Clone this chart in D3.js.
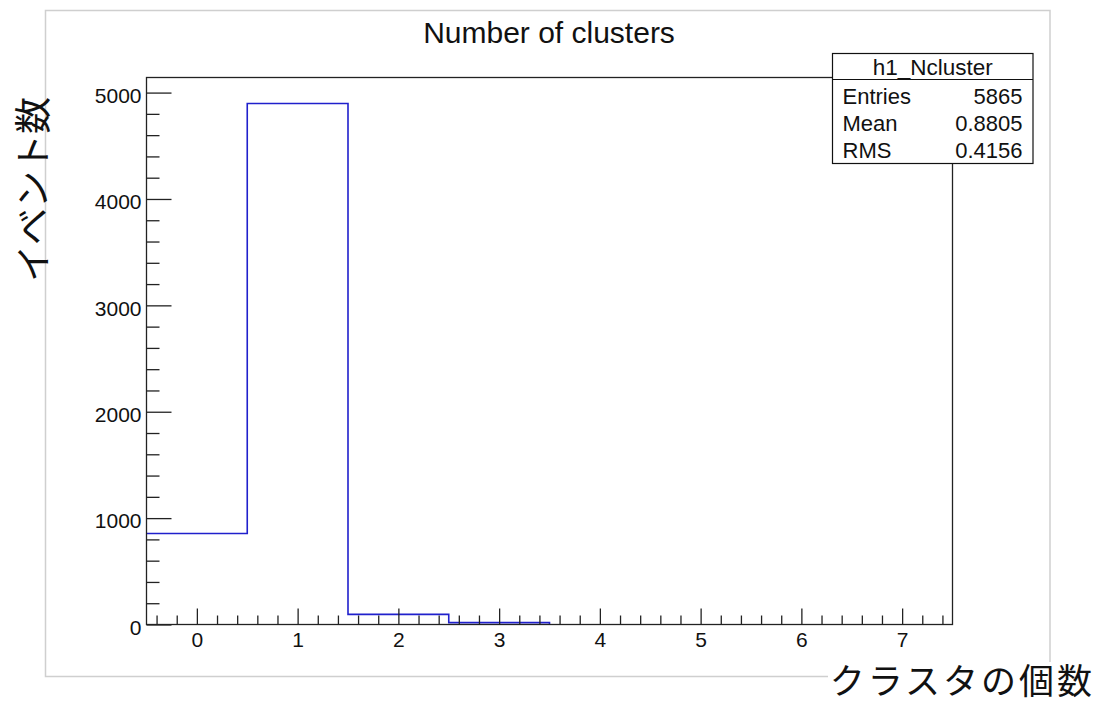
<!DOCTYPE html>
<html>
<head>
<meta charset="utf-8">
<script src="https://cdn.jsdelivr.net/npm/d3@7"></script>
<style>
  html, body { margin: 0; padding: 0; background: #fff; }
  svg { display: block; }
  .lat { font-family: "Liberation Sans", Arial, Helvetica, sans-serif; }
  .cjk { font-family: "Noto Sans CJK JP", sans-serif; }
</style>
</head>
<body>
<svg id="chart" width="1099" height="704"></svg>
<script>
// Histogram of the number of clusters per event
const binCenters = [0, 1, 2, 3, 4, 5, 6, 7];
const binCounts  = [855, 4897, 95, 18, 0, 0, 0, 0];
const xTickValues = [0, 1, 2, 3, 4, 5, 6, 7];
const yTickValues = [0, 1000, 2000, 3000, 4000, 5000];
const statsLabels = ["Entries", "Mean", "RMS"];
const statsValues = ["5865", "0.8805", "0.4156"];
const histName = "h1_Ncluster";
const titleText = "Number of clusters";
const xTitle = "クラスタの個数";
const yTitle = "イベント数";

const svg = d3.select("#chart");
const frame = { left: 146.5, right: 952.5, top: 77.5, bottom: 624.5 };

const yMax = d3.max(binCounts) * 1.05;
const x = d3.scaleLinear().domain([-0.5, 7.5]).range([frame.left, frame.right]);
const y = d3.scaleLinear().domain([0, yMax]).range([frame.bottom, frame.top]);

// canvas border
svg.append("rect")
  .attr("x", 45.5).attr("y", 10.5)
  .attr("width", 1004.5).attr("height", 666)
  .attr("fill", "none").attr("stroke", "#cfcfcf").attr("stroke-width", 1.5);

// title
svg.append("text").attr("class", "lat")
  .attr("x", 549).attr("y", 43)
  .attr("text-anchor", "middle")
  .attr("font-size", 30).attr("fill", "#111")
  .text(titleText);

// histogram outline (steps through non-empty bins)
const lastBin = d3.max(binCounts.map((c, i) => c > 0 ? i : -1));
const pts = [];
for (let i = 0; i <= lastBin; i++) {
  pts.push([x(binCenters[i] - 0.5), y(binCounts[i])]);
  pts.push([x(binCenters[i] + 0.5), y(binCounts[i])]);
}
pts.push([x(binCenters[lastBin] + 0.5), y(0)]);
svg.append("path")
  .attr("d", d3.line()(pts))
  .attr("fill", "none").attr("stroke", "#2020cc").attr("stroke-width", 1.6);

// frame
svg.append("rect")
  .attr("x", frame.left).attr("y", frame.top)
  .attr("width", frame.right - frame.left).attr("height", frame.bottom - frame.top)
  .attr("fill", "none").attr("stroke", "#222").attr("stroke-width", 1.3);

// x axis: major and minor ticks pointing into the frame
const xMinor = d3.range(-0.4, 7.45, 0.2).map(v => Math.round(v * 10) / 10)
  .filter(v => !xTickValues.includes(v));
const gxMinor = svg.append("g").attr("transform", `translate(0,${frame.bottom})`)
  .call(d3.axisBottom(x).tickValues(xMinor).tickSize(-9).tickFormat(""));
const gx = svg.append("g").attr("transform", `translate(0,${frame.bottom})`)
  .call(d3.axisBottom(x).tickValues(xTickValues).tickSize(-16).tickPadding(8).tickFormat(d3.format("d")));

// y axis: major and minor ticks
const yMinor = d3.range(200, yMax, 200).filter(v => v % 1000 !== 0);
const gyMinor = svg.append("g").attr("transform", `translate(${frame.left},0)`)
  .call(d3.axisLeft(y).tickValues(yMinor).tickSize(-13).tickFormat(""));
const gy = svg.append("g").attr("transform", `translate(${frame.left},0)`)
  .call(d3.axisLeft(y).tickValues(yTickValues).tickSize(-25).tickPadding(5).tickFormat(d3.format("d")));

[gx, gy, gxMinor, gyMinor].forEach(g => {
  g.select(".domain").remove();
  g.selectAll("line").attr("stroke", "#222").attr("stroke-width", 1.3);
  g.selectAll("text").attr("class", "lat").attr("font-size", 21).attr("fill", "#111");
});
gy.selectAll("text").attr("dy", "0.46em");

// stats box
const box = { x: 832.5, y: 53.5, w: 200.5, h: 110 };
svg.append("rect")
  .attr("x", box.x).attr("y", box.y).attr("width", box.w).attr("height", box.h)
  .attr("fill", "#fff").attr("stroke", "#111").attr("stroke-width", 1.2);
svg.append("line")
  .attr("x1", box.x).attr("x2", box.x + box.w)
  .attr("y1", 79.5).attr("y2", 79.5)
  .attr("stroke", "#111").attr("stroke-width", 1.2);
svg.append("text").attr("class", "lat")
  .attr("x", box.x + box.w / 2).attr("y", 75)
  .attr("text-anchor", "middle").attr("font-size", 22.5).attr("fill", "#111")
  .text(histName);
statsLabels.forEach((lab, i) => {
  const by = 103.5 + i * 27;
  svg.append("text").attr("class", "lat")
    .attr("x", 842.5).attr("y", by)
    .attr("font-size", 22).attr("fill", "#111").text(lab);
  svg.append("text").attr("class", "lat")
    .attr("x", 1022.5).attr("y", by).attr("text-anchor", "end")
    .attr("font-size", 22).attr("fill", "#111").text(statsValues[i]);
});

// axis titles
svg.append("text").attr("class", "cjk")
  .attr("transform", "translate(31,97) rotate(-90)")
  .attr("text-anchor", "end").attr("dominant-baseline", "central")
  .attr("font-size", 37).attr("fill", "#111")
  .text(yTitle);

svg.append("rect")
  .attr("x", 828).attr("y", 662).attr("width", 271).attr("height", 42)
  .attr("fill", "#fff");
svg.append("text").attr("class", "cjk")
  .attr("x", 1095).attr("y", 678)
  .attr("text-anchor", "end").attr("dominant-baseline", "central")
  .attr("font-size", 35).attr("letter-spacing", 3).attr("fill", "#111")
  .text(xTitle);
</script>
</body>
</html>
